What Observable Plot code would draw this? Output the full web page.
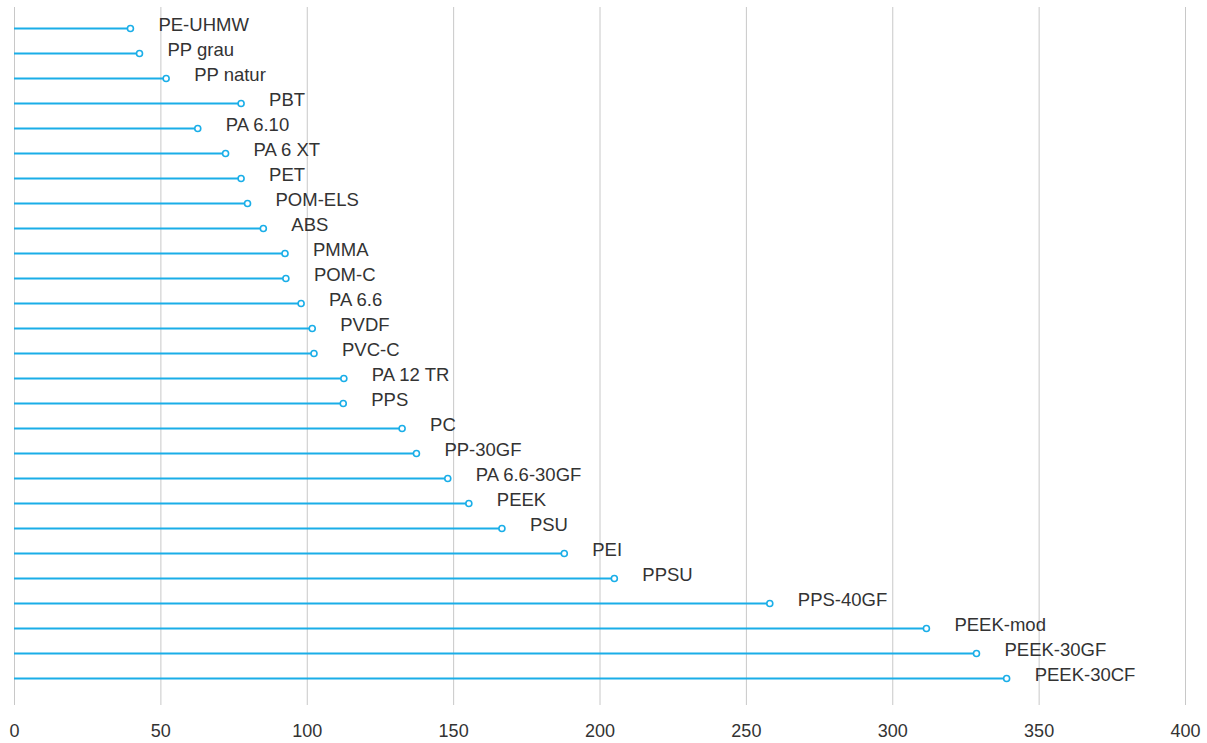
<!DOCTYPE html>
<html>
<head>
<meta charset="utf-8">
<script src="https://cdn.jsdelivr.net/npm/d3@7"></script>
<script src="https://cdn.jsdelivr.net/npm/@observablehq/plot@0.6"></script>
<style>
  html, body { margin: 0; padding: 0; background: #fff; }
  #chart svg { display: block; }
</style>
</head>
<body>
<div id="chart"></div>
<script>
const materials = ["PE-UHMW","PP grau","PP natur","PBT","PA 6.10","PA 6 XT","PET","POM-ELS","ABS","PMMA","POM-C","PA 6.6","PVDF","PVC-C","PA 12 TR","PPS","PC","PP-30GF","PA 6.6-30GF","PEEK","PSU","PEI","PPSU","PPS-40GF","PEEK-mod","PEEK-30GF","PEEK-30CF"];
const values = [39.6,42.7,51.8,77.4,62.6,72.1,77.4,79.6,85,92.4,92.7,97.9,101.7,102.3,112.5,112.3,132.4,137.3,148,155.2,166.5,187.8,204.9,258,311.5,328.6,338.9];
const xTicks = [0,50,100,150,200,250,300,350,400];

const data = materials.map((m, i) => ({material: m, value: values[i]}));
const blue = "#1aaee8";

const chart = Plot.plot({
  width: 1207,
  height: 743,
  marginLeft: 14,
  marginRight: 22,
  marginTop: 7,
  marginBottom: 38,
  style: {fontFamily: "'Liberation Sans', Arial, sans-serif", fontSize: "18px", color: "#333", background: "#fff"},
  x: {domain: [0, 400], ticks: xTicks, label: null},
  y: {type: "point", domain: materials, range: [26, 679], padding: 0, axis: null},
  marks: [
    Plot.ruleX(xTicks, {stroke: "#c8c8c8", strokeWidth: 1}),
    Plot.axisX(xTicks, {tickSize: 0, tickPadding: 19, label: null, fill: "#333", fontSize: 18}),
    Plot.ruleY(data, {y: "material", x1: 0, x2: "value", stroke: blue, strokeWidth: 2}),
    Plot.dot(data, {y: "material", x: "value", r: 3, stroke: blue, strokeWidth: 1.6, fill: "#fff"}),
    Plot.text(data, {y: "material", x: "value", text: "material", textAnchor: "start", dx: 28, dy: -3, fill: "#333", fontSize: 18.5, style: "letter-spacing:0.3px"})
  ]
});
document.getElementById("chart").appendChild(chart);
</script>
</body>
</html>
